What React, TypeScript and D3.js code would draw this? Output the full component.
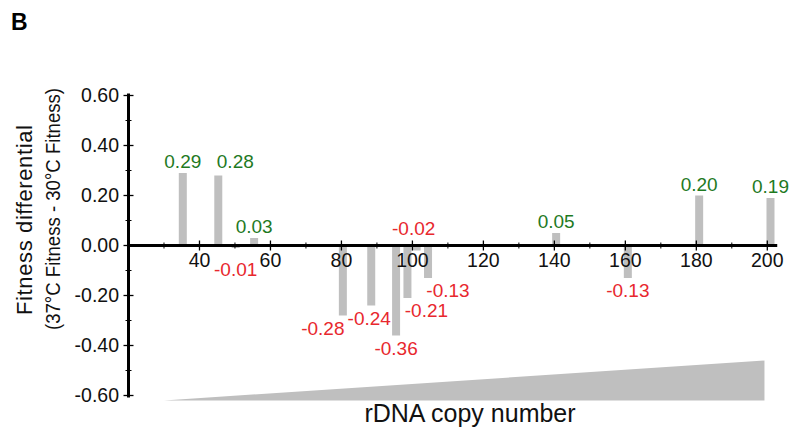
import React from "react";
import * as d3 from "d3";

const copyNumber = [35.3, 45.3, 50.2, 55.4, 80.4, 88.4, 95.4, 98.6, 101.2, 104.4, 140.5, 160.7, 180.8, 200.9];
const fitnessDiff = [0.29, 0.28, -0.01, 0.03, -0.28, -0.24, -0.36, -0.21, -0.02, -0.13, 0.05, -0.13, 0.2, 0.19];
const labelDx = [0, 17, 0, 0, -20, -2, 0, 19, -3, 20, 0, 0, 0, 0];
const labelDy = [0, -3, 9, 0, 0, 0, 0, 0, -35, 0, 0, 0, 0, 0];
const xMajorTicks = [40, 60, 80, 100, 120, 140, 160, 180, 200];
const xMinorTicks = [30, 50, 70, 90, 110, 130, 150, 170, 190];
const yMajorTicks = [-0.6, -0.4, -0.2, 0, 0.2, 0.4, 0.6];
const yMinorTicks = [-0.5, -0.3, -0.1, 0.1, 0.3, 0.5];
const triangleX = [30, 199.2];
const triangleY = [-0.62, -0.46];

const W = 791;
const H = 432;
const FONT = "'Liberation Sans', Arial, Helvetica, sans-serif";
const GREEN = "#1f7a1f";
const RED = "#e8282e";
const BAR = "#bfbfbf";

const locale = d3.formatLocale({ decimal: ".", thousands: ",", grouping: [3], currency: ["$", ""], minus: "-" });
const fmt = locale.format(".2f");

export default function App() {
  const x = d3.scaleLinear().domain([20, 200]).range([128.5, 767.3]);
  const y = d3.scaleLinear().domain([-0.6, 0.6]).range([395.5, 95.5]);
  const barW = 8;
  const axisEnd = x(202.8);

  const tri = d3.line<[number, number]>()([
    [x(triangleX[0]), y(triangleY[0])],
    [x(triangleX[1]), y(triangleY[1])],
    [x(triangleX[1]), y(triangleY[0])],
  ]) + "Z";

  return (
    <svg width={W} height={H} style={{ position: "absolute", left: 0, top: 0, background: "#fff" }} fontFamily={FONT}>
      <text x={11} y={30} fontSize={23} fontWeight="bold" fill="#000">B</text>

      {/* bars */}
      {copyNumber.map((c, i) => {
        const v = fitnessDiff[i];
        const y0 = y(0);
        const y1 = y(v);
        return (
          <rect key={"b" + i} x={x(c) - barW / 2} y={Math.min(y0, y1)} width={barW} height={Math.abs(y1 - y0)} fill={BAR} />
        );
      })}

      {/* triangle */}
      <path d={tri} fill={BAR} />

      {/* y axis */}
      <line x1={x(20)} x2={x(20)} y1={y(0.6) - 2} y2={y(-0.6) + 2} stroke="#000" strokeWidth={3} />
      {yMajorTicks.map((t) => (
        <g key={"ym" + t}>
          <line x1={x(20) - 5} x2={x(20) + 5} y1={y(t)} y2={y(t)} stroke="#000" strokeWidth={1.3} />
          <text x={119} y={y(t)} dy="0.35em" textAnchor="end" fontSize={19.5} fill="#111">{fmt(t)}</text>
        </g>
      ))}
      {yMinorTicks.map((t) => (
        <line key={"yn" + t} x1={x(20) - 3} x2={x(20) + 3} y1={y(t)} y2={y(t)} stroke="#000" strokeWidth={1} />
      ))}

      {/* x axis */}
      <line x1={x(20)} x2={axisEnd} y1={y(0)} y2={y(0)} stroke="#000" strokeWidth={3} />
      {xMajorTicks.map((t) => (
        <g key={"xm" + t}>
          <line x1={x(t)} x2={x(t)} y1={y(0) - 5} y2={y(0) + 5} stroke="#000" strokeWidth={1.3} />
          <text x={x(t)} y={267} textAnchor="middle" fontSize={19.5} fill="#111">{t}</text>
        </g>
      ))}
      {xMinorTicks.map((t) => (
        <line key={"xn" + t} x1={x(t)} x2={x(t)} y1={y(0) - 3} y2={y(0) + 3} stroke="#000" strokeWidth={1} />
      ))}

      {/* value labels */}
      {copyNumber.map((c, i) => {
        const v = fitnessDiff[i];
        const pos = v > 0;
        const ty = pos ? y(v) - 5 : y(v) + 19;
        return (
          <text key={"l" + i} x={x(c) + labelDx[i]} y={ty + labelDy[i]} textAnchor="middle" fontSize={19} fill={pos ? GREEN : RED}>
            {fmt(v)}
          </text>
        );
      })}

      {/* axis titles */}
      <text x={470} y={422} textAnchor="middle" fontSize={25} fill="#111">rDNA copy number</text>
      <text transform={`translate(32,220) rotate(-90)`} textAnchor="middle" fontSize={22} textLength={190} lengthAdjust="spacing" fill="#111">Fitness differential</text>
      <text transform={`translate(60,209) rotate(-90)`} textAnchor="middle" fontSize={20.5} textLength={242} lengthAdjust="spacingAndGlyphs" fill="#111">(37°C Fitness - 30°C Fitness)</text>
    </svg>
  );
}
